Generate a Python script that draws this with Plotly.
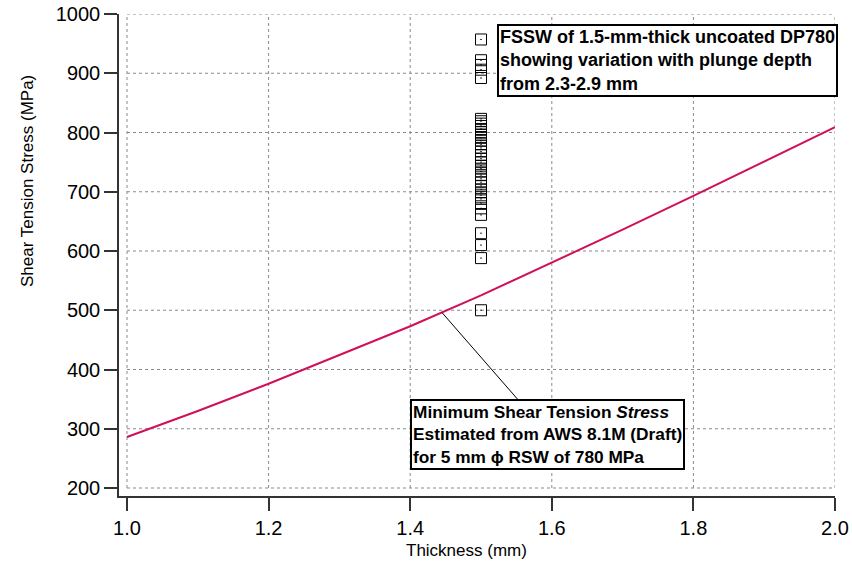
import plotly.graph_objects as go

# Minimum shear tension stress curve (AWS 8.1M draft estimate)
thickness = [1.0, 1.1, 1.2, 1.3, 1.4, 1.5, 1.6, 1.7, 1.8, 1.9, 2.0]
min_stress = [286, 330, 376, 424, 473, 525, 580, 636, 693, 751, 809]

# FSSW measurements (1.5 mm thick DP780)
fssw_thickness = [1.5] * 38
fssw_stress = [957, 922, 914, 906, 892,
               823, 819, 815, 811, 806, 801, 796, 791, 786, 780, 774, 768,
               762, 756, 750, 744, 739, 734, 728, 722, 716, 710, 704, 699,
               694, 688, 681, 672, 661, 630, 610, 588, 500]

x_ticks = [1.0, 1.2, 1.4, 1.6, 1.8, 2.0]
y_ticks = [200, 300, 400, 500, 600, 700, 800, 900, 1000]

FONT = "Liberation Sans, Arial, sans-serif"

fig = go.Figure()
fig.add_trace(go.Scatter(x=thickness, y=min_stress, mode="lines",
                         line=dict(color="#d1105a", width=2), showlegend=False))
fig.add_trace(go.Scatter(x=fssw_thickness, y=fssw_stress, mode="markers",
                         marker=dict(symbol="square-open-dot", size=11,
                                     color="black", line=dict(width=1, color="black")),
                         showlegend=False))

shapes = []
for xv in x_ticks:
    shapes.append(dict(type="line", xref="x", yref="y", x0=xv, x1=xv,
                       y0=y_ticks[0], y1=y_ticks[-1], layer="below",
                       line=dict(color="#8a8a8a", width=1, dash="dot")))
for yv in y_ticks:
    shapes.append(dict(type="line", xref="x", yref="y", x0=x_ticks[0], x1=x_ticks[-1],
                       y0=yv, y1=yv, layer="below",
                       line=dict(color="#8a8a8a", width=1, dash="dot")))

annotations = [
    dict(xref="x", yref="y", x=1.5226, y=983, xanchor="left", yanchor="top",
         text="<b>FSSW of 1.5-mm-thick uncoated DP780<br>showing variation with plunge depth<br>from 2.3-2.9 mm</b>",
         align="left", showarrow=False, bgcolor="white", bordercolor="black",
         borderwidth=2, borderpad=1, font=dict(family=FONT, size=18, color="black")),
    dict(xref="x", yref="y", x=1.445, y=496, axref="x", ayref="y", ax=1.5946, ay=291,
         text="<b>Minimum Shear Tension <i>Stress</i><br>Estimated from AWS 8.1M (Draft)<br>for 5 mm ϕ RSW of 780 MPa</b>",
         align="left", showarrow=True, arrowhead=0, arrowwidth=1, arrowcolor="black",
         bgcolor="white", bordercolor="black", borderwidth=2, borderpad=1,
         font=dict(family=FONT, size=17.3, color="black")),
    # axis titles
    dict(xref="paper", yref="paper", x=(466 - 119) / 716, y=-(550 - 496) / 482,
         xanchor="center", yanchor="middle", showarrow=False, text="Thickness (mm)",
         font=dict(family=FONT, size=17, color="black")),
    dict(xref="paper", yref="paper", x=-(119 - 27) / 716, y=(496 - 181) / 482,
         xanchor="center", yanchor="middle", showarrow=False, textangle=-90,
         text="Shear Tension Stress (MPa)", font=dict(family=FONT, size=17, color="black")),
]

fig.update_layout(
    width=852, height=571,
    margin=dict(l=119, r=17, t=14, b=75),
    plot_bgcolor="white", paper_bgcolor="white",
    font=dict(family=FONT, size=17, color="black"),
    shapes=shapes, annotations=annotations,
    xaxis=dict(range=[1.0 - 8 / 708, 2.0], tickvals=x_ticks,
               ticktext=[f"{v:.1f}" for v in x_ticks], automargin=False,
               showgrid=False, zeroline=False, showline=True, linecolor="#333",
               linewidth=1.5, ticks="outside", ticklen=13, tickwidth=1.5, tickcolor="#333",
               tickfont=dict(size=20)),
    yaxis=dict(range=[200 - 8 / 0.5925, 1000], tickvals=y_ticks, automargin=False,
               showgrid=False, zeroline=False, showline=True, linecolor="#333",
               linewidth=1.5, ticks="outside", ticklen=13, tickwidth=1.5, tickcolor="#333",
               tickfont=dict(size=20)),
)

fig.write_html("out.html", config={"displayModeBar": False},
               post_script="document.body.style.margin='0';")
